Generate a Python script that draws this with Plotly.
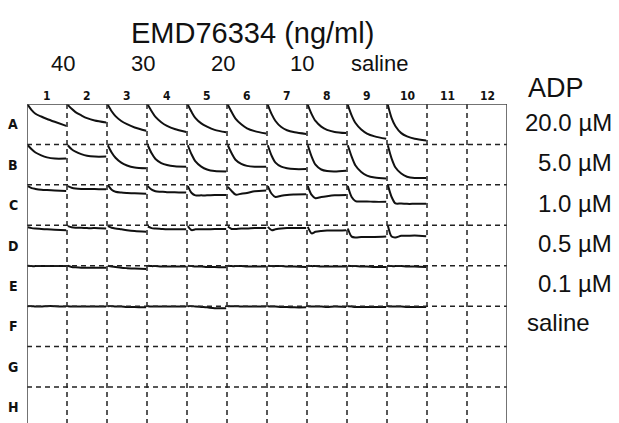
import plotly.graph_objects as go

# ---------------- data ----------------
row_labels = ["A", "B", "C", "D", "E", "F", "G", "H"]
col_labels = [str(i) for i in range(1, 13)]
dose_labels = ["40", "30", "20", "10", "saline"]
adp_labels = ["20.0 µM", "5.0 µM", "1.0 µM", "0.5 µM", "0.1 µM", "saline"]

# sample times within each well trace (fraction of the well width)
t_grid = [0.0, 0.1, 0.2, 0.35, 0.5, 0.7, 1.0]

# drop of the aggregation trace (fraction of well height) per well, columns 1..10
trace_A = [
    [0.02, 0.15, 0.24, 0.31, 0.37, 0.44, 0.54],
    [0.02, 0.12, 0.20, 0.28, 0.35, 0.41, 0.46],
    [0.02, 0.18, 0.30, 0.42, 0.50, 0.58, 0.66],
    [0.02, 0.18, 0.32, 0.45, 0.54, 0.62, 0.69],
    [0.02, 0.20, 0.35, 0.48, 0.56, 0.64, 0.70],
    [0.02, 0.20, 0.36, 0.50, 0.60, 0.67, 0.73],
    [0.02, 0.25, 0.42, 0.57, 0.65, 0.70, 0.74],
    [0.02, 0.25, 0.42, 0.56, 0.64, 0.69, 0.72],
    [0.02, 0.28, 0.47, 0.63, 0.73, 0.80, 0.86],
    [0.02, 0.35, 0.55, 0.72, 0.80, 0.86, 0.90],
]
trace_B = [
    [0.02, 0.12, 0.20, 0.27, 0.32, 0.35, 0.35],
    [0.02, 0.12, 0.18, 0.24, 0.28, 0.30, 0.30],
    [0.02, 0.20, 0.33, 0.45, 0.52, 0.57, 0.59],
    [0.02, 0.22, 0.36, 0.46, 0.51, 0.54, 0.55],
    [0.02, 0.25, 0.42, 0.55, 0.62, 0.66, 0.67],
    [0.02, 0.22, 0.38, 0.48, 0.53, 0.55, 0.55],
    [0.02, 0.28, 0.45, 0.55, 0.59, 0.61, 0.61],
    [0.02, 0.30, 0.50, 0.62, 0.66, 0.67, 0.65],
    [0.02, 0.30, 0.52, 0.68, 0.77, 0.82, 0.84],
    [0.02, 0.35, 0.57, 0.72, 0.80, 0.83, 0.83],
]
trace_C = [
    [0.03, 0.08, 0.10, 0.12, 0.13, 0.14, 0.15],
    [0.03, 0.07, 0.09, 0.10, 0.10, 0.10, 0.11],
    [0.00, 0.12, 0.17, 0.19, 0.20, 0.21, 0.22],
    [0.03, 0.12, 0.16, 0.17, 0.18, 0.18, 0.19],
    [0.03, 0.20, 0.26, 0.26, 0.26, 0.25, 0.25],
    [0.05, 0.15, 0.24, 0.22, 0.20, 0.16, 0.14],
    [0.03, 0.22, 0.30, 0.27, 0.25, 0.24, 0.23],
    [0.03, 0.25, 0.33, 0.30, 0.28, 0.26, 0.25],
    [0.03, 0.30, 0.40, 0.41, 0.41, 0.42, 0.42],
    [0.00, 0.30, 0.46, 0.46, 0.47, 0.47, 0.47],
]
trace_D = [
    [0.05, 0.07, 0.08, 0.09, 0.10, 0.11, 0.12],
    [0.02, 0.05, 0.06, 0.06, 0.07, 0.07, 0.08],
    [0.02, 0.06, 0.08, 0.10, 0.12, 0.14, 0.16],
    [0.03, 0.07, 0.08, 0.09, 0.10, 0.10, 0.10],
    [0.02, 0.12, 0.10, 0.10, 0.10, 0.09, 0.09],
    [0.03, 0.09, 0.09, 0.08, 0.08, 0.07, 0.07],
    [0.04, 0.12, 0.10, 0.08, 0.07, 0.07, 0.07],
    [0.04, 0.20, 0.16, 0.14, 0.13, 0.13, 0.12],
    [0.08, 0.28, 0.30, 0.29, 0.29, 0.29, 0.28],
    [0.00, 0.28, 0.30, 0.26, 0.26, 0.25, 0.27],
]
trace_E = [
    [0.00, 0.01, 0.01, 0.01, 0.01, 0.01, 0.01],
    [0.00, 0.03, 0.04, 0.05, 0.05, 0.05, 0.05],
    [0.00, 0.02, 0.03, 0.05, 0.06, 0.07, 0.08],
    [0.00, 0.01, 0.01, 0.02, 0.02, 0.02, 0.02],
    [0.00, 0.01, 0.02, 0.02, 0.03, 0.03, 0.04],
    [0.00, 0.01, 0.01, 0.01, 0.02, 0.02, 0.02],
    [0.00, 0.01, 0.01, 0.01, 0.02, 0.02, 0.03],
    [0.00, 0.01, 0.01, 0.02, 0.02, 0.02, 0.02],
    [0.00, 0.01, 0.01, 0.02, 0.02, 0.03, 0.03],
    [0.00, 0.01, 0.01, 0.01, 0.02, 0.02, 0.03],
]
trace_F = [
    [0.00, 0.00, 0.01, 0.01, 0.00, 0.00, 0.01],
    [0.00, 0.01, 0.01, 0.01, 0.01, 0.01, 0.01],
    [0.00, 0.00, 0.01, 0.01, 0.02, 0.02, 0.03],
    [0.00, 0.01, 0.01, 0.01, 0.01, 0.01, 0.01],
    [0.00, 0.00, 0.01, 0.02, 0.03, 0.05, 0.05],
    [0.00, 0.00, 0.00, 0.01, 0.01, 0.01, 0.01],
    [0.00, 0.01, 0.01, 0.02, 0.02, 0.03, 0.03],
    [0.00, 0.01, 0.01, 0.01, 0.02, 0.01, 0.02],
    [0.00, 0.01, 0.02, 0.02, 0.02, 0.02, 0.02],
    [0.00, 0.01, 0.01, 0.01, 0.02, 0.02, 0.02],
]
well_traces = [trace_A, trace_B, trace_C, trace_D, trace_E, trace_F]

# ---------------- figure ----------------
W, H = 619, 423
grid_left, grid_right, grid_top = 27, 507, 104
row_h = 40.43
n_cols = 12
y_bottom = (H - grid_top) / row_h

fig = go.Figure()

for r, row in enumerate(well_traces):
    xs, ys = [], []
    for c, drops in enumerate(row):
        for t, d in zip(t_grid, drops):
            xs.append(c + 0.02 + 0.96 * t)
            ys.append(r + d)
        xs.append(None)
        ys.append(None)
    fig.add_trace(go.Scatter(
        x=xs, y=ys, mode="lines",
        line=dict(color="#111111", width=2, shape="spline", smoothing=0.8),
        hoverinfo="skip", showlegend=False,
    ))

shapes = []
dash_style = dict(color="#222222", width=1.5, dash="5px,4px")
for k in range(1, n_cols):
    shapes.append(dict(type="line", xref="x", yref="y", x0=k, x1=k, y0=0, y1=y_bottom, line=dash_style))
for k in range(1, len(row_labels)):
    shapes.append(dict(type="line", xref="x", yref="y", x0=0, x1=n_cols, y0=k, y1=k, line=dash_style))
solid = dict(color="#444444", width=1.5)
shapes.append(dict(type="line", xref="x", yref="y", x0=0, x1=n_cols, y0=0, y1=0, line=solid))
shapes.append(dict(type="line", xref="x", yref="y", x0=0, x1=0, y0=0, y1=y_bottom, line=solid))
shapes.append(dict(type="line", xref="x", yref="y", x0=n_cols, x1=n_cols, y0=0, y1=y_bottom, line=solid))

narrow = "Liberation Sans Narrow, DejaVu Sans Condensed, Arial Narrow, sans-serif"
main = "Liberation Sans, Arial, Helvetica, sans-serif"

ann = []
for c, lab in enumerate(col_labels):
    ann.append(dict(text="<b>%s</b>" % lab, xref="x", yref="paper", x=c + 0.5, y=1 - 96 / H,
                    showarrow=False, xanchor="center", yanchor="middle",
                    font=dict(family=narrow, size=12, color="#111")))
for r, lab in enumerate(row_labels):
    ann.append(dict(text="<b>%s</b>" % lab, xref="paper", yref="y", x=13 / W, y=r + 0.5,
                    showarrow=False, xanchor="center", yanchor="middle",
                    font=dict(family=narrow, size=14, color="#111")))

ann.append(dict(text="EMD76334 (ng/ml)", xref="paper", yref="paper", x=252 / W, y=1 - 33 / H,
                showarrow=False, xanchor="center", yanchor="middle",
                font=dict(family=main, size=29, color="#111")))
dose_x = [63, 143, 223, 302, 380]
for lab, px in zip(dose_labels, dose_x):
    ann.append(dict(text=lab, xref="paper", yref="paper", x=px / W, y=1 - 63 / H,
                    showarrow=False, xanchor="center", yanchor="middle",
                    font=dict(family=main, size=22, color="#111")))

ann.append(dict(text="ADP", xref="paper", yref="paper", x=556 / W, y=1 - 88 / H,
                showarrow=False, xanchor="center", yanchor="middle",
                font=dict(family=main, size=27, color="#111")))
for r, lab in enumerate(adp_labels):
    if lab == "saline":
        ann.append(dict(text=lab, xref="paper", yref="y", x=525 / W, y=r + 0.4,
                        showarrow=False, xanchor="left", yanchor="middle",
                        font=dict(family=main, size=24, color="#111")))
    else:
        ann.append(dict(text=lab, xref="paper", yref="y", x=614 / W, y=r + 0.45,
                        showarrow=False, xanchor="right", yanchor="middle",
                        font=dict(family=main, size=24, color="#111")))

fig.update_layout(
    width=W, height=H,
    margin=dict(l=0, r=0, t=0, b=0),
    paper_bgcolor="white", plot_bgcolor="white",
    xaxis=dict(range=[0, n_cols], domain=[grid_left / W, grid_right / W], visible=False, fixedrange=True),
    yaxis=dict(range=[y_bottom, 0], domain=[0, 1 - grid_top / H], visible=False, fixedrange=True),
    shapes=shapes, annotations=ann, showlegend=False,
)

fig.write_html("out.html")
